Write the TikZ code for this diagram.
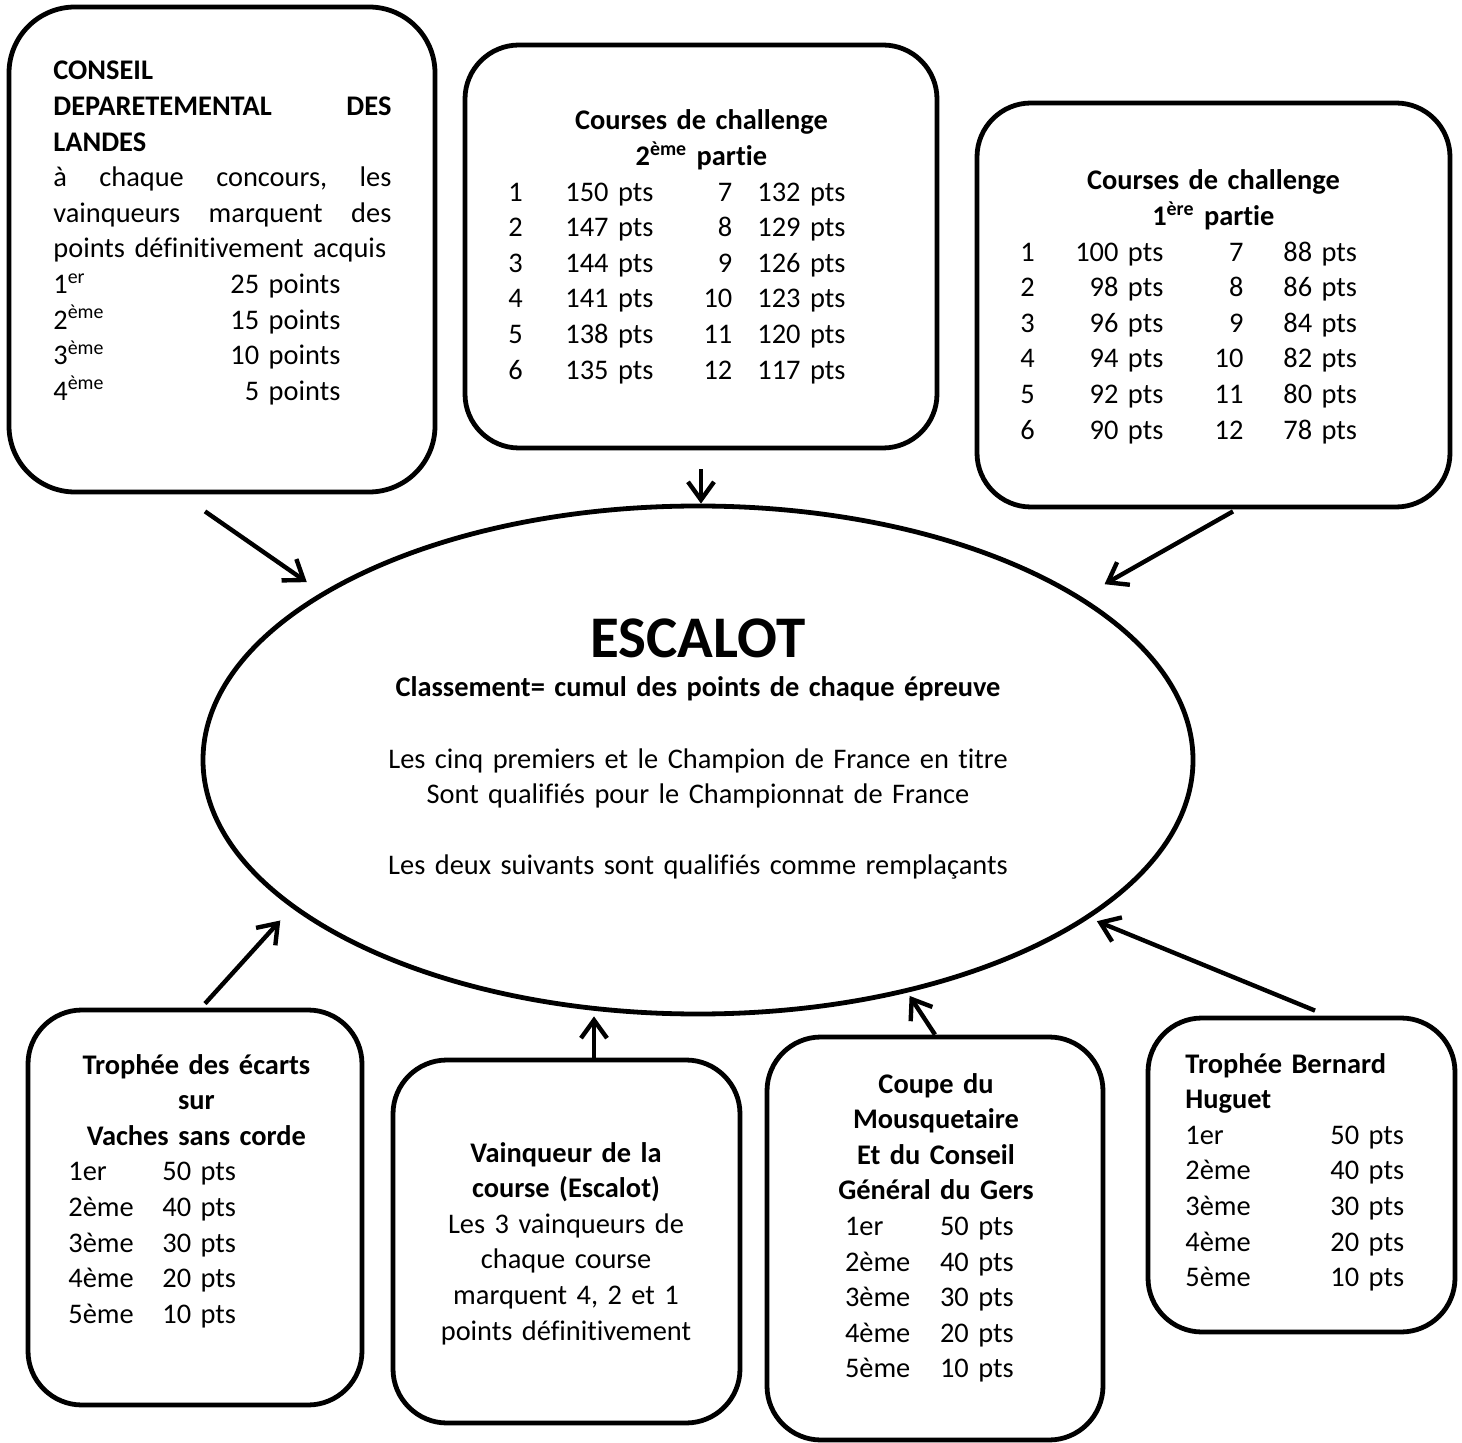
\documentclass[tikz,border=0pt]{standalone}
\usepackage{fontspec}
\setmainfont{Carlito}[Ligatures=NoCommon]
\usetikzlibrary{shapes.geometric,arrows.meta}

% lignes des tableaux de points
\newcommand{\rangA}[4]{\makebox[\linewidth][l]{\makebox[28.5pt][l]{#1}\makebox[43.5pt][l]{#2}\makebox[40pt][r]{#3}\hspace{12.5pt}#4}}
\newcommand{\rangB}[4]{\makebox[\linewidth][l]{\makebox[71.5pt][l]{#1\hfill #2}\makebox[40pt][r]{#3}\hspace{20pt}#4}}

\tikzset{
    cadre/.style={draw, line width=2.4pt, rounded corners=27pt},
    texte/.style={inner sep=0pt, font=\fontsize{14.2pt}{17.8pt}\selectfont},
    fleche/.style={-{Straight Barb[length=9pt,width=13pt]}, line width=2.2pt},
}

\begin{document}
\begin{tikzpicture}[x=0.5pt, y=-0.5pt]
            \useasboundingbox (0,0) rectangle (1462,1443);

            % Cadres
            \node[cadre, rounded corners=33pt, minimum width=213pt, minimum height=242.5pt] (conseil) at (222,249.5) {};
            \node[cadre, minimum width=236pt, minimum height=201.5pt] (courses2) at (701,246.5) {};
            \node[cadre, minimum width=236.5pt, minimum height=202pt] (courses1) at (1213.5,305) {};
            \node[cadre, minimum width=167pt, minimum height=197.5pt] (trophee) at (195,1207.5) {};
            \node[cadre, minimum width=173.5pt, minimum height=181.5pt] (vainqueur) at (566.5,1241.5) {};
            \node[cadre, minimum width=168pt, minimum height=201.5pt] (coupe) at (935,1238.5) {};
            \node[cadre, minimum width=153.5pt, minimum height=157pt] (huguet) at (1301.5,1175) {};
            \node[draw, ellipse, line width=2.4pt, minimum width=495pt, minimum height=254pt] (escalot) at (698,760) {};

            % Textes
            \node[texte, text width=169pt, align=left, anchor=base west] (conseil-t) at (53,80) {%
                \textbf{CONSEIL}\\
                \textbf{DEPARETEMENTAL\hfill DES}\\
                \textbf{LANDES}\\
                à\hfill chaque\hfill concours,\hfill les\\
                vainqueurs\hfill marquent\hfill des\\
                points définitivement acquis\\
                \makebox[143.5pt][l]{1\textsuperscript{er}\hfill 25 points}\\
                \makebox[143.5pt][l]{2\textsuperscript{ème}\hfill 15 points}\\
                \makebox[143.5pt][l]{3\textsuperscript{ème}\hfill 10 points}\\
                \makebox[143.5pt][l]{4\textsuperscript{ème}\hfill 5 points}};

            \node[texte, text width=193pt, align=center, anchor=base west] (courses2-t) at (508,130) {%
                \textbf{Courses de challenge}\\
                \textbf{2\textsuperscript{ème} partie}\\
                \rangA{1}{150 pts}{7}{132 pts}\\
                \rangA{2}{147 pts}{8}{129 pts}\\
                \rangA{3}{144 pts}{9}{126 pts}\\
                \rangA{4}{141 pts}{10}{123 pts}\\
                \rangA{5}{138 pts}{11}{120 pts}\\
                \rangA{6}{135 pts}{12}{117 pts}};

            \node[texte, text width=193pt, align=center, anchor=base west] (courses1-t) at (1020,190) {%
                \textbf{Courses de challenge}\\
                \textbf{1\textsuperscript{ère} partie}\\
                \rangB{1}{100 pts}{7}{88 pts}\\
                \rangB{2}{98 pts}{8}{86 pts}\\
                \rangB{3}{96 pts}{9}{84 pts}\\
                \rangB{4}{94 pts}{10}{82 pts}\\
                \rangB{5}{92 pts}{11}{80 pts}\\
                \rangB{6}{90 pts}{12}{78 pts}};

            \node[texte, text width=340pt, align=center, anchor=base] (escalot-t) at (698,658) {%
                {\fontsize{29.5pt}{36pt}\selectfont\bfseries ESCALOT}\\[1.7pt]
                \textbf{Classement= cumul des points de chaque épreuve}\\[17.8pt]
                Les cinq premiers et le Champion de France en titre\\
                Sont qualifiés pour le Championnat de France\\[17.8pt]
                Les deux suivants sont qualifiés comme remplaçants};

            \node[texte, text width=128pt, align=center, anchor=base west] (trophee-t) at (68,1074) {%
                \textbf{Trophée des écarts}\\
                \textbf{sur}\\
                \textbf{Vaches sans corde}\\
                \makebox[\linewidth][l]{\makebox[47pt][l]{1er}50 pts}\\
                \makebox[\linewidth][l]{\makebox[47pt][l]{2ème}40 pts}\\
                \makebox[\linewidth][l]{\makebox[47pt][l]{3ème}30 pts}\\
                \makebox[\linewidth][l]{\makebox[47pt][l]{4ème}20 pts}\\
                \makebox[\linewidth][l]{\makebox[47pt][l]{5ème}10 pts}};

            \node[texte, text width=150pt, align=center, anchor=base] (vainqueur-t) at (566,1162) {%
                \textbf{Vainqueur de la}\\
                \textbf{course (Escalot)}\\
                Les 3 vainqueurs de\\
                chaque course\\
                marquent 4, 2 et 1\\
                points définitivement};

            \node[texte, text width=120pt, align=center, anchor=base] (coupe-t) at (936,1093) {%
                \textbf{Coupe du}\\
                \textbf{Mousquetaire}\\
                \textbf{Et du Conseil}\\
                \textbf{Général du Gers}\\
                \makebox[\linewidth][l]{\hspace*{14.5pt}\makebox[47.5pt][l]{1er}50 pts}\\
                \makebox[\linewidth][l]{\hspace*{14.5pt}\makebox[47.5pt][l]{2ème}40 pts}\\
                \makebox[\linewidth][l]{\hspace*{14.5pt}\makebox[47.5pt][l]{3ème}30 pts}\\
                \makebox[\linewidth][l]{\hspace*{14.5pt}\makebox[47.5pt][l]{4ème}20 pts}\\
                \makebox[\linewidth][l]{\hspace*{14.5pt}\makebox[47.5pt][l]{5ème}10 pts}};

            \node[texte, text width=130pt, align=left, anchor=base west] (huguet-t) at (1185,1073) {%
                \textbf{Trophée Bernard}\\
                \textbf{Huguet}\\
                \makebox[72.5pt][l]{1er}50 pts\\
                \makebox[72.5pt][l]{2ème}40 pts\\
                \makebox[72.5pt][l]{3ème}30 pts\\
                \makebox[72.5pt][l]{4ème}20 pts\\
                \makebox[72.5pt][l]{5ème}10 pts};

            % Fleches
            \draw[fleche, shorten >=9pt] ([shift={(-17,17)}]conseil.south) -- (escalot.156);
            \draw[fleche, shorten <=9.5pt] (courses2.south) -- (courses2.south |- escalot.north);
            \draw[fleche, shorten >=13pt] ([shift={(19.5,2)}]courses1.south) -- (escalot.23);
            \draw[fleche, shorten >=8.5pt] ([shift={(10,-4)}]trophee.north) -- (escalot.200);
            \coordinate (vx) at ([xshift=13.75pt]vainqueur.north);
            \draw[fleche] (vx) -- (vx |- escalot.south);
            \draw[fleche, shorten >=2pt] (coupe.north) -- (escalot.312);
            \draw[fleche, shorten >=4pt] ([shift={(13.5,-5)}]huguet.north) -- (escalot.338);
        \end{tikzpicture}
\end{document}
